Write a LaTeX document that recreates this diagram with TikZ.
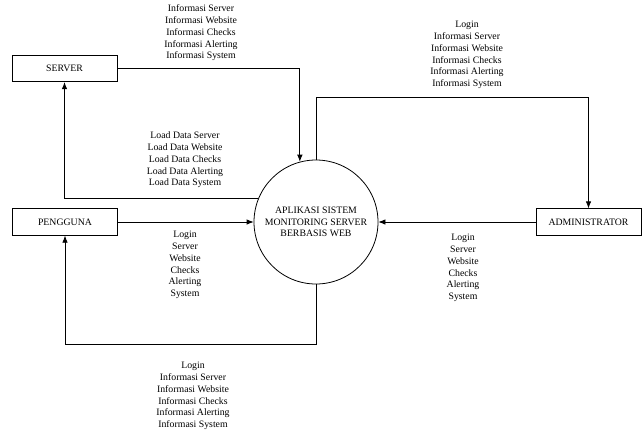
\documentclass[tikz,border=0pt]{standalone}
\usepackage{fontspec}
\setmainfont{Liberation Serif}
\usepackage{tikz}
\usetikzlibrary{arrows.meta}
\usetikzlibrary{shapes,positioning}
\tikzset{
  entitas/.style={draw,line width=0.8pt,minimum width=105pt,minimum height=26.5pt,inner sep=0pt},
  proses/.style={draw,circle,line width=0.8pt,minimum size=124pt,inner sep=0pt,align=center},
  alir/.style={line width=0.8pt,-{Latex[length=7pt,width=5.5pt]}},
  ket/.style={align=center,inner sep=0pt,font=\fontsize{9.8}{11.8}\selectfont}
}
\begin{document}
\begin{tikzpicture}[x=1pt,y=-1pt,font=\fontsize{9.8}{11.8}\selectfont]
          \useasboundingbox (0,0) rectangle (644,434);
          \node[entitas] (server)   at (64.5,68.5) {SERVER};
          \node[entitas] (pengguna) at (65,222)    {PENGGUNA};
          \node[entitas] (admin)    at (588.5,222) {ADMINISTRATOR};
          \node[proses]  (sistem)   at (316,222)
            {APLIKASI SISTEM\\MONITORING SERVER\\BERBASIS WEB};
          % aliran data
          \draw[alir] (server.east) -| (sistem.105);
          \draw[alir] (sistem.158) -| (server.south);
          \draw[alir] (sistem.north) -- (sistem.north |- 0,97) -| (admin.north);
          \draw[alir] (admin.west) -- (sistem.east);
          \draw[alir] (pengguna.east) -- (sistem.west);
          \draw[alir] (sistem.south) -- (sistem.south |- 0,344) -| (pengguna.south);
          % keterangan
          \node[ket] (k1) at (201,33) {Informasi Server\\Informasi Website\\Informasi Checks\\Informasi Alerting\\Informasi System};
          \node[ket] (k2) at (467,55) {Login\\Informasi Server\\Informasi Website\\Informasi Checks\\Informasi Alerting\\Informasi System};
          \node[ket] (k3) at (185,160) {Load Data Server\\Load Data Website\\Load Data Checks\\Load Data Alerting\\Load Data System};
          \node[ket] (k4) at (185,265) {Login\\Server\\Website\\Checks\\Alerting\\System};
          \node[ket] (k5) at (463,268) {Login\\Server\\Website\\Checks\\Alerting\\System};
          \node[ket] (k6) at (193,396) {Login\\Informasi Server\\Informasi Website\\Informasi Checks\\Informasi Alerting\\Informasi System};
        \end{tikzpicture}
\end{document}
